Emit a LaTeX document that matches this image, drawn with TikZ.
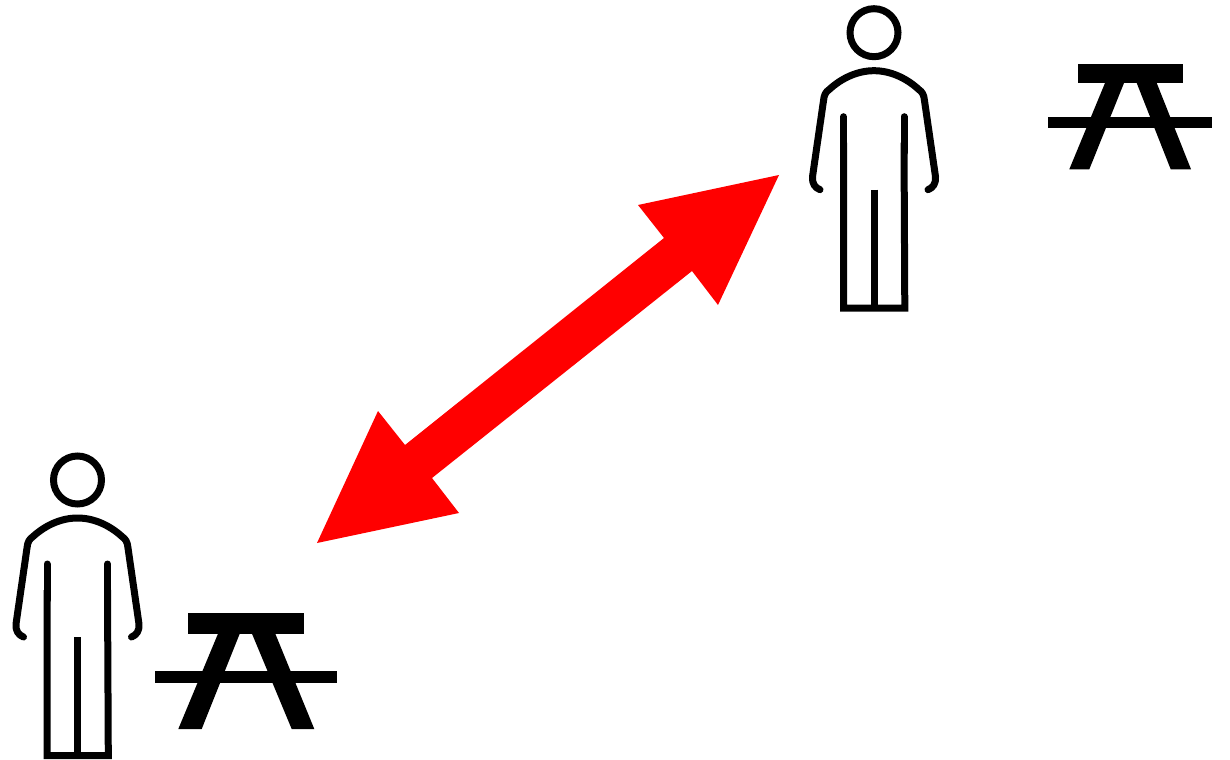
\documentclass[tikz,border=0pt]{standalone}
\tikzset{
  figure line/.style={draw=black,line width=0.14cm,fill=none},
  round end/.style={figure line,line cap=round,line join=round},
  butt end/.style={figure line,line cap=butt,line join=miter},
  solid black/.style={fill=black,draw=none},
  big arrow/.style={fill=red,draw=none},
  person/.pic={
    \draw[figure line] (0,0) circle (24);
    \draw[round end] (-54,157) .. controls (-59,155) and (-62,151) .. (-61.5,144)
      -- (-50.5,68) .. controls (-50,62) and (-48,59) .. (-45,57)
      .. controls (-32,45) and (-16,38) .. (0,38)
      .. controls (16,38) and (32,45) .. (45,57)
      .. controls (48,59) and (50,62) .. (50.5,68)
      -- (61.5,144) .. controls (62,151) and (59,155) .. (54,157);
    \draw[round end] (-30.5,84) -- (-30.5,120);
    \draw[round end] (30,84) -- (30,120);
    \draw[butt end] (-30.5,110) -- (-30.5,275.5) -- (30.8,275.5) -- (30,110);
    \draw[butt end] (0,157) -- (0,275.5);
  }
}
\begin{document}
\begin{tikzpicture}[x=0.02cm,y=-0.02cm]
\useasboundingbox (0,0) rectangle (1230,760);
% people
\pic at (874,32.7) {person};
\pic at (77.5,480) {person};
% right table
\fill[solid black] (1078.3,64.3) rectangle (1182.7,83.5);
\fill[solid black] (1048.3,117) rectangle (1212.3,128.5);
\fill[solid black] (1105,83) -- (1124,83) -- (1089.3,169.3) -- (1069.3,169.3) -- cycle;
\fill[solid black] (1136.7,83) -- (1156.7,83) -- (1191,169.3) -- (1170.7,169.3) -- cycle;
% left table
\fill[solid black] (188.3,613.3) rectangle (304.3,633.5);
\fill[solid black] (155,671) rectangle (337.3,683.3);
\fill[solid black] (218.3,633) -- (240,633) -- (201.7,729) -- (178.3,729) -- cycle;
\fill[solid black] (251.7,633) -- (275,633) -- (314.3,729) -- (291.7,729) -- cycle;
% arrow
\fill[big arrow] (779,175) -- (638,205) -- (664,238) -- (405,445) -- (378,411) -- (317,543) -- (459,513) -- (432,478) -- (692,271) -- (718,305) -- cycle;
\end{tikzpicture}
\end{document}
